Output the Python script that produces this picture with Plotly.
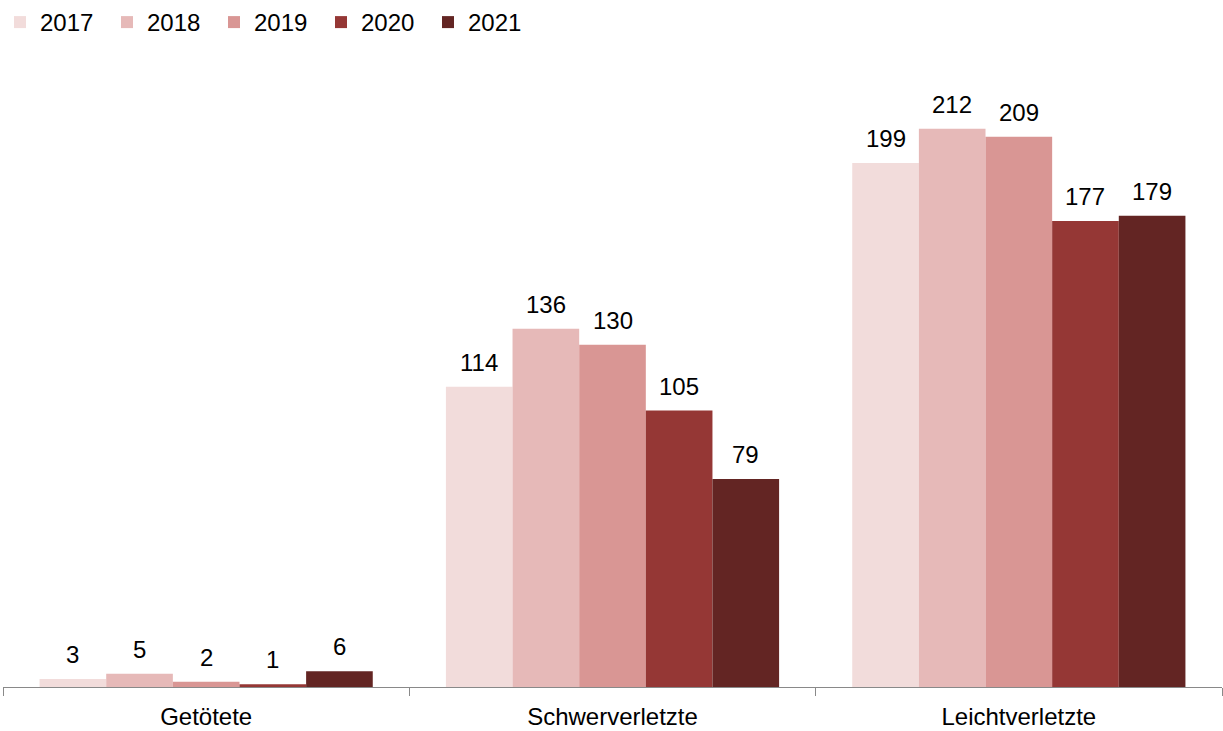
import plotly.graph_objects as go

categories = ["Getötete", "Schwerverletzte", "Leichtverletzte"]
years = ["2017", "2018", "2019", "2020", "2021"]
values = {
    "2017": [3, 114, 199],
    "2018": [5, 136, 212],
    "2019": [2, 130, 209],
    "2020": [1, 105, 177],
    "2021": [6, 79, 179],
}
colors = ["#F2DCDB", "#E6B9B8", "#D99694", "#953735", "#632523"]

BARGAP = 0.18
FONT = "Liberation Sans, Arial, sans-serif"

fig = go.Figure()
for yr, col in zip(years, colors):
    fig.add_trace(go.Bar(name=yr, x=categories, y=values[yr], marker_color=col,
                         marker_line_width=0))

n = len(years)
w = (1 - BARGAP) / n
for i, yr in enumerate(years):
    off = -(1 - BARGAP) / 2 + (i + 0.5) * w
    for j, v in enumerate(values[yr]):
        fig.add_annotation(x=j + off, y=v, text=str(v), showarrow=False,
                           xref="x", yref="y", yanchor="bottom", yshift=9,
                           font=dict(size=24, color="#000000", family=FONT))

fig.update_layout(
    barmode="group", bargap=BARGAP, bargroupgap=0,
    width=1223, height=731,
    margin=dict(l=3, r=1, t=55, b=42),
    plot_bgcolor="white", paper_bgcolor="white",
    font=dict(family=FONT, size=24, color="#000000"),
    showlegend=True,
    legend=dict(orientation="h", x=-0.0082, y=1, xref="paper", yref="container",
                xanchor="left", yanchor="top", font=dict(size=24),
                entrywidth=62, itemwidth=30, traceorder="normal"),
    xaxis=dict(type="category", showline=True, linecolor="#898989", linewidth=1,
               ticks="outside", tickson="boundaries", ticklen=8, tickcolor="#898989",
               tickfont=dict(size=24), ticklabelstandoff=8,
               showgrid=False, zeroline=False),
    yaxis=dict(range=[0, 240], visible=False, showgrid=False, zeroline=False),
)

fig.write_html("out.html", config={"displayModeBar": False},
               post_script="document.body.style.margin='0';document.body.style.padding='0';")
